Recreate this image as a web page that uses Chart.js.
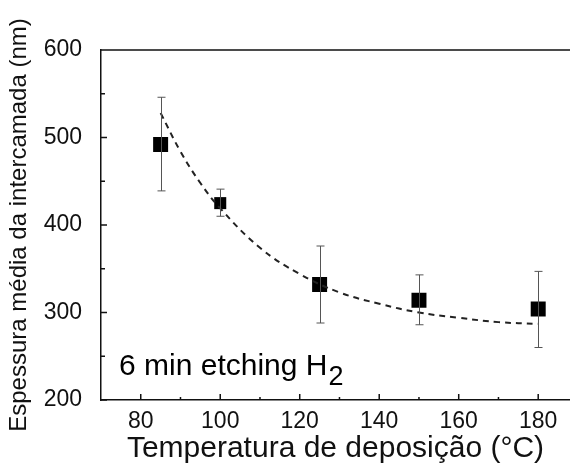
<!DOCTYPE html>
<html>
<head>
<meta charset="utf-8">
<script src="https://cdn.jsdelivr.net/npm/chart.js@4"></script>
<style>
  html, body { margin: 0; padding: 0; background: #fff; }
  #wrap { width: 570px; height: 468px; }
</style>
</head>
<body>
<div id="wrap"><canvas id="chart" width="570" height="468"></canvas></div>
<script>
// values
const temps = [85, 100, 125, 150, 180];
const thickness = [492, 425, 332, 314, 304];
const errTop = [546, 441, 376, 343, 347];
const errBottom = [439, 410, 288, 286, 260];
const markerSize = [10.6, 8.5, 10.6, 10.6, 10.6];

// dashed fit curve, read at a few temperatures
const fitTemps = [85, 90, 95, 100, 110, 120, 130, 140, 150, 160, 170, 180];
const fitValues = [528, 484, 448, 419, 374, 344, 323, 310, 300, 294, 289, 287];

const xTicks = [80, 100, 120, 140, 160, 180];
const xMinor = [90, 110, 130, 150, 170];
const yTicks = [200, 300, 400, 500, 600];
const yMinor = [250, 350, 450, 550];

const FONT = "'Liberation Sans', Arial, sans-serif";
const ctx = document.getElementById('chart');

// error bars, inward ticks, top frame line and the label
const extras = {
  id: 'extras',
  afterDatasetsDraw(chart) {
    const c = chart.ctx;
    const x = chart.scales.x, y = chart.scales.y;
    c.save();
    c.strokeStyle = '#555';
    c.lineWidth = 1;
    temps.forEach((t, i) => {
      const px = Math.round(x.getPixelForValue(t)) + 0.5;
      const top = y.getPixelForValue(errTop[i]);
      const bot = y.getPixelForValue(errBottom[i]);
      c.beginPath();
      c.moveTo(px, top); c.lineTo(px, bot);
      c.moveTo(px - 4, top); c.lineTo(px + 4, top);
      c.moveTo(px - 4, bot); c.lineTo(px + 4, bot);
      c.stroke();
    });
    c.restore();
  },
  afterDraw(chart) {
    const c = chart.ctx;
    const x = chart.scales.x, y = chart.scales.y;
    const a = chart.chartArea;
    c.save();
    c.strokeStyle = '#111';
    c.lineWidth = 1.5;
    c.beginPath();
    c.moveTo(a.left, a.top); c.lineTo(a.right, a.top);
    xTicks.forEach(v => { const p = x.getPixelForValue(v); c.moveTo(p, a.bottom); c.lineTo(p, a.bottom - 6); });
    xMinor.forEach(v => { const p = x.getPixelForValue(v); c.moveTo(p, a.bottom); c.lineTo(p, a.bottom - 3); });
    yTicks.forEach(v => { const p = y.getPixelForValue(v); c.moveTo(a.left, p); c.lineTo(a.left + 6, p); });
    yMinor.forEach(v => { const p = y.getPixelForValue(v); c.moveTo(a.left, p); c.lineTo(a.left + 4, p); });
    c.stroke();

    c.fillStyle = '#000';
    c.textBaseline = 'alphabetic';
    c.font = '30px ' + FONT;
    const label = '6 min etching H';
    c.fillText(label, 119, 375);
    const w = c.measureText(label).width;
    c.font = '27px ' + FONT;
    c.fillText('2', 119 + w + 1, 385);
    c.restore();
  }
};

new Chart(ctx, {
  type: 'scatter',
  data: {
    datasets: [
      {
        label: 'fit',
        type: 'line',
        data: fitTemps.map((t, i) => ({ x: t, y: fitValues[i] })),
        borderColor: '#222',
        borderWidth: 2,
        borderDash: [6, 5],
        pointRadius: 0,
        tension: 0.4,
        fill: false
      },
      {
        label: 'espessura',
        data: temps.map((t, i) => ({ x: t, y: thickness[i] })),
        pointStyle: 'rect',
        pointRadius: markerSize,
        backgroundColor: '#000',
        borderColor: '#000',
        borderWidth: 0
      }
    ]
  },
  options: {
    responsive: false,
    animation: false,
    layout: { autoPadding: false, padding: { top: 50, right: 0, left: 0, bottom: 0 } },
    plugins: { legend: { display: false }, tooltip: { enabled: false } },
    scales: {
      x: {
        type: 'linear',
        min: 70,
        max: 188,
        afterBuildTicks: s => { s.ticks = xTicks.map(v => ({ value: v })); },
        afterFit: s => { s.height = 68; s.paddingLeft = 0; s.paddingRight = 0; },
        grid: { display: false, drawTicks: false },
        border: { display: true, color: '#111', width: 1.5 },
        ticks: { color: '#111', padding: 8, maxRotation: 0, font: { family: FONT, size: 23 } },
        title: {
          display: true,
          text: 'Temperatura de deposição (°C)',
          color: '#111',
          padding: { top: 0, bottom: 1 },
          font: { family: FONT, size: 30 }
        }
      },
      y: {
        min: 200,
        max: 600,
        afterBuildTicks: s => { s.ticks = yTicks.map(v => ({ value: v })); },
        afterFit: s => { s.width = 101; s.paddingTop = 0; s.paddingBottom = 0; },
        grid: { display: false, drawTicks: false },
        border: { display: true, color: '#111', width: 1.5 },
        ticks: { color: '#111', padding: 19, font: { family: FONT, size: 23 } },
        title: {
          display: true,
          text: 'Espessura média da intercamada (nm)',
          color: '#111',
          padding: { top: 5, bottom: 0 },
          font: { family: FONT, size: 24 }
        }
      }
    }
  },
  plugins: [extras]
});
</script>
</body>
</html>
